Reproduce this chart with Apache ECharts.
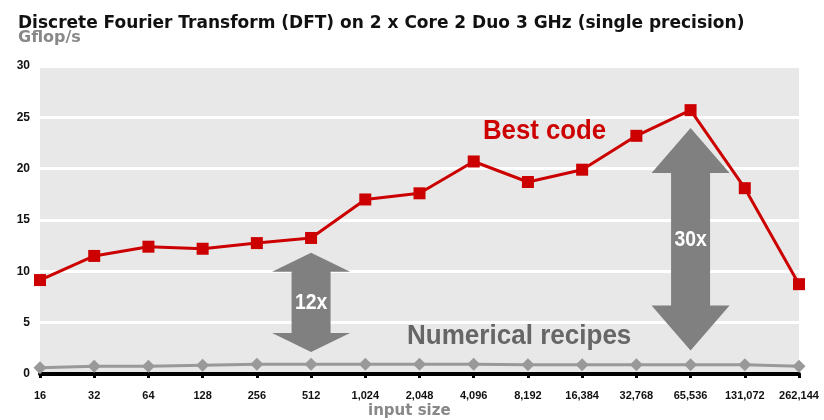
<!DOCTYPE html>
<html>
<head>
<meta charset="utf-8">
<script src="https://cdn.jsdelivr.net/npm/echarts@6/dist/echarts.min.js"></script>
<style>
  html, body { margin: 0; padding: 0; background: #fff; }
  #chart { width: 824px; height: 420px; }
</style>
</head>
<body>
<div id="chart"></div>
<script>
  var inputSizes = ['16', '32', '64', '128', '256', '512', '1,024', '2,048', '4,096',
    '8,192', '16,384', '32,768', '65,536', '131,072', '262,144'];
  var bestCode = [9.15, 11.5, 12.4, 12.2, 12.75, 13.25, 17.0, 17.6, 20.7, 18.7, 19.9, 23.2, 25.7, 18.1, 8.75];
  var numericalRecipes = [0.6, 0.75, 0.75, 0.85, 0.95, 0.95, 0.95, 0.95, 0.95, 0.9, 0.9, 0.9, 0.9, 0.9, 0.75];
  var yTicks = [0, 5, 10, 15, 20, 25, 30];

  // speed-up arrows: category index, value span, label
  var arrows = [
    { idx: 5, from: 2.15, to: 11.8, label: '12x', head: 19 },
    { idx: 12, from: 2.3, to: 23.95, label: '30x', head: 45 }
  ];

  var node = document.getElementById('chart');
  var myCharts = echarts.init(node);
  var boldFont = 'Liberation Sans, Arial, sans-serif';

  var option = {
    backgroundColor: '#fff',
    animation: false,
    title: [
      {
        text: 'Discrete Fourier Transform (DFT) on 2 x Core 2 Duo 3 GHz (single precision)',
        left: 13, top: 10,
        textStyle: { fontFamily: 'DejaVu Sans', fontWeight: 'bold', fontSize: 17, color: '#111' }
      },
      {
        text: 'Gflop/s',
        left: 13, top: 25,
        textStyle: { fontFamily: 'DejaVu Sans', fontWeight: 'bold', fontSize: 16, color: '#888' }
      },
      {
        text: 'input size',
        left: 363, top: 399,
        textStyle: { fontFamily: 'DejaVu Sans', fontWeight: 'bold', fontSize: 15, color: '#888' }
      }
    ],
    grid: {
      left: 40,
      right: 25,
      top: 66,
      bottom: 46,
      show: true,
      backgroundColor: '#e8e8e8',
      borderWidth: 0
    },
    xAxis: {
      type: 'category',
      data: inputSizes,
      boundaryGap: false,
      axisLine: { lineStyle: { color: '#000', width: 4 } },
      axisTick: { show: true, length: 4, lineStyle: { color: '#000', width: 3 } },
      axisLabel: {
        color: '#111', fontFamily: boldFont, fontWeight: 'bold', fontSize: 11,
        margin: 16, interval: 0
      },
      splitLine: { show: false }
    },
    yAxis: {
      type: 'value',
      min: yTicks[0],
      max: yTicks[yTicks.length - 1],
      interval: 5,
      axisLine: { show: false },
      axisTick: { show: false },
      axisLabel: {
        color: '#111', fontFamily: boldFont, fontWeight: 'bold', fontSize: 12, margin: 10
      },
      splitLine: { lineStyle: { color: '#fff', width: 3 } }
    },
    series: [
      {
        name: 'Numerical recipes',
        type: 'line',
        data: numericalRecipes,
        symbol: 'diamond',
        symbolSize: 13,
        lineStyle: { color: '#999', width: 3 },
        itemStyle: { color: '#999' },
        z: 3
      },
      {
        name: 'Best code',
        type: 'line',
        data: bestCode,
        symbol: 'rect',
        symbolSize: 12,
        lineStyle: { color: '#cc0000', width: 3 },
        itemStyle: { color: '#cc0000' },
        z: 4
      }
    ]
  };
  myCharts.setOption(option);

  // arrows + in-plot labels, placed through the axes (under the lines)
  var graphic = [];
  arrows.forEach(function (a) {
    var cx = myCharts.convertToPixel({ xAxisIndex: 0 }, a.idx);
    var yTop = myCharts.convertToPixel({ yAxisIndex: 0 }, a.to);
    var yBot = myCharts.convertToPixel({ yAxisIndex: 0 }, a.from);
    var hw = 39, sw = 19.5, h = a.head;
    graphic.push({
      type: 'polygon',
      shape: {
        points: [
          [cx, yTop], [cx + hw, yTop + h], [cx + sw, yTop + h],
          [cx + sw, yBot - h], [cx + hw, yBot - h], [cx, yBot],
          [cx - hw, yBot - h], [cx - sw, yBot - h], [cx - sw, yTop + h],
          [cx - hw, yTop + h]
        ]
      },
      style: { fill: '#808080' },
      z: 1
    });
    graphic.push({
      type: 'text',
      x: cx, y: (yTop + yBot) / 2 + 1,
      scaleX: 0.88,
      style: {
        text: a.label, fill: '#fff', font: 'bold 22px ' + boldFont,
        align: 'center', verticalAlign: 'middle'
      },
      z: 1
    });
  });
  graphic.push({
    type: 'text', x: 483, y: 117,
    scaleX: 0.92,
    style: { text: 'Best code', fill: '#cc0000', font: 'bold 28px ' + boldFont },
    z: 1
  });
  graphic.push({
    type: 'text', x: 407, y: 322,
    scaleX: 0.93,
    style: { text: 'Numerical recipes', fill: '#666', font: 'bold 28px ' + boldFont },
    z: 1
  });
  myCharts.setOption({ graphic: graphic });
</script>
</body>
</html>
